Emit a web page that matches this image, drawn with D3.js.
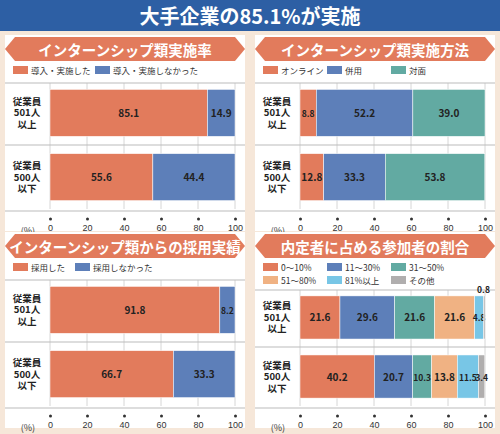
<!DOCTYPE html>
<html><head><meta charset="utf-8">
<script src="https://cdn.jsdelivr.net/npm/d3@7"></script>
<style>body{margin:0;background:#f6e7d9}svg{display:block;font-family:"Noto Sans CJK JP",sans-serif}</style>
</head><body><div id="chart"></div>
<script>
const rows = ["従業員\n501人\n以上", "従業員\n500人\n以下"];
const ticks = [0, 20, 40, 60, 80, 100];

const rateKeys = ["導入・実施した", "導入・実施しなかった"];
const rateValues = [[85.1, 14.9], [55.6, 44.4]];

const methodKeys = ["オンライン", "併用", "対面"];
const methodValues = [[8.8, 52.2, 39.0], [12.8, 33.3, 53.8]];

const hireKeys = ["採用した", "採用しなかった"];
const hireValues = [[91.8, 8.2], [66.7, 33.3]];

const shareKeys = ["0～10%", "11～30%", "31～50%", "51～80%", "81%以上", "その他"];
const shareValues = [[21.6, 29.6, 21.6, 21.6, 4.8, 0.8], [40.2, 20.7, 10.3, 13.8, 11.5, 3.4]];

const colors = ["#e27b5c", "#5d7fb9", "#62aaa2", "#f0b283", "#78c6e6", "#b0aeae"];

const W = 500, H = 434;
const svg = d3.select("#chart").append("svg").attr("width", W).attr("height", H);
svg.append("rect").attr("width", W).attr("height", H).attr("fill", "#f6e7d9");
svg.append("rect").attr("width", W).attr("height", 31).attr("fill", "#2d5fa4");
svg.append("text").attr("x", W / 2).attr("y", 24).attr("text-anchor", "middle")
  .attr("fill", "#fff").attr("font-size", 20).attr("font-weight", 700).text("大手企業の85.1%が実施");

function panel(x0, y0, title, keys, values, opts) {
  const w = 240, h = 196;
  const g = svg.append("g").attr("transform", `translate(${x0},${y0})`);
  g.append("rect").attr("width", w).attr("height", h).attr("fill", "#fff");
  // ribbon header
  g.append("path").attr("d", `M0,14 L10,2 H${w - 10} L${w},14 L${w - 10},26 H10 Z`).attr("fill", "#e27b5c");
  g.append("text").attr("x", w / 2).attr("y", 20.5).attr("text-anchor", "middle").attr("fill", "#fff")
    .attr("font-size", 14.5).attr("font-weight", 700).text(title);
  // legend
  const lg = g.append("g");
  keys.forEach((k, i) => {
    const col = opts.legendCols ? i % opts.legendCols : i;
    const row = opts.legendCols ? Math.floor(i / opts.legendCols) : 0;
    const lx = 8 + col * opts.legendStep, ly = 35 + row * 13;
    lg.append("rect").attr("x", lx).attr("y", ly - 4).attr("width", 15).attr("height", 8).attr("fill", colors[i]);
    lg.append("text").attr("x", lx + 18).attr("y", ly + 3.5).attr("font-size", 8.5).attr("fill", "#333").text(k);
  });
  const x = d3.scaleLinear().domain([0, 100]).range([45, 230]);
  const top = opts.top, bottom = 172;
  const y = d3.scaleBand().domain(rows).range([top, bottom]).paddingInner(0.27).paddingOuter(0.1);
  g.selectAll(".grid").data(ticks).enter().append("line")
    .attr("x1", d => x(d)).attr("x2", d => x(d)).attr("y1", top).attr("y2", bottom + 2)
    .attr("stroke", "#ccc").attr("stroke-width", 0.8);
  g.append("line").attr("x1", 0).attr("x2", w).attr("y1", top).attr("y2", top).attr("stroke", "#bbb");
  const mid = (y(rows[0]) + y.bandwidth() + y(rows[1])) / 2;
  g.append("line").attr("x1", 0).attr("x2", w).attr("y1", mid).attr("y2", mid).attr("stroke", "#bbb");
  g.append("line").attr("x1", 0).attr("x2", w).attr("y1", bottom + 4).attr("y2", bottom + 4).attr("stroke", "#bbb");
  rows.forEach((r, ri) => {
    let acc = 0;
    values[ri].forEach((v, i) => {
      const gx = x(acc), gw = x(acc + v) - x(acc);
      g.append("rect").attr("x", gx).attr("y", y(r)).attr("width", gw).attr("height", y.bandwidth())
        .attr("fill", colors[i]).attr("stroke", "#fff").attr("stroke-width", 0.5);
      let lx = gx + gw / 2, ly = y(r) + y.bandwidth() / 2 + 4;
      let fs = gw < 22 ? 8.5 : 10;
      if (v < 2) { ly = y(r) - 3; lx = gx; }
      g.append("text").attr("x", lx).attr("y", ly).attr("text-anchor", "middle")
        .attr("font-size", fs).attr("font-weight", 700).attr("fill", "#222").text(v.toFixed(1));
      acc += v;
    });
    const lines = r.split("\n");
    lines.forEach((t, li) => g.append("text").attr("x", 22).attr("y", y(r) + y.bandwidth() / 2 - 8 + li * 11.5)
      .attr("text-anchor", "middle").attr("font-size", 9.5).attr("font-weight", 700).attr("fill", "#222").text(t));
  });
  const ax = g.append("g").attr("transform", `translate(0,${bottom + 12})`)
    .call(d3.axisBottom(x).tickValues(ticks).tickSize(0).tickPadding(6));
  ax.select(".domain").remove();
  ax.selectAll("text").attr("font-size", 9).attr("fill", "#333");
  ax.selectAll(".tick").append("circle").attr("r", 1.5).attr("fill", "#333");
  g.append("text").attr("x", 30).attr("y", bottom + 27).attr("text-anchor", "end").attr("font-size", 9).attr("fill", "#333").text("(%)");
}

panel(5, 35, "インターンシップ類実施率", rateKeys, rateValues, { legendStep: 82, top: 48 });
panel(255, 35, "インターンシップ類実施方法", methodKeys, methodValues, { legendStep: 64, top: 48 });
panel(5, 232, "インターンシップ類からの採用実績", hireKeys, hireValues, { legendStep: 62, top: 48 });
panel(255, 232, "内定者に占める参加者の割合", shareKeys, shareValues, { legendCols: 3, legendStep: 64, top: 58 });
</script></body></html>
